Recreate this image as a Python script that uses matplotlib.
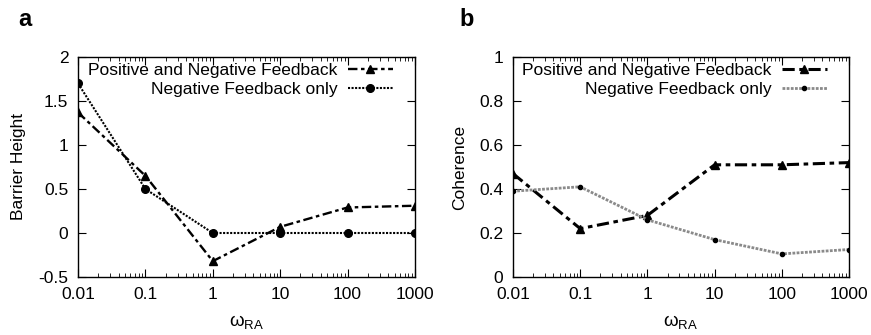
import numpy as np
import matplotlib
matplotlib.use("Agg")
import matplotlib.pyplot as plt
from matplotlib import rcParams
from matplotlib.ticker import LogLocator, FixedLocator, NullFormatter

rcParams["font.family"] = ["Liberation Sans", "DejaVu Sans"]
rcParams["axes.linewidth"] = 1.0
rcParams["xtick.direction"] = "in"
rcParams["ytick.direction"] = "in"
rcParams["xtick.top"] = True
rcParams["ytick.right"] = True

omega = [0.01, 0.1, 1, 10, 100, 1000]
xTickLabels = ["0.01", "0.1", "1", "10", "100", "1000"]

barrierPosNeg = [1.37, 0.65, -0.32, 0.07, 0.29, 0.31]
barrierNeg = [1.70, 0.50, 0.0, 0.0, 0.0, 0.0]
coherencePosNeg = [0.47, 0.22, 0.28, 0.51, 0.51, 0.52]
coherenceNeg = [0.39, 0.41, 0.26, 0.17, 0.105, 0.125]

labelPosNeg = "Positive and Negative Feedback"
labelNeg = "Negative Feedback only"

fontSize = 12.5

fig = plt.figure(figsize=(8.71, 3.35), dpi=100)
axA = fig.add_axes([78/871, 1-277/335, 337/871, 220/335])
axB = fig.add_axes([513/871, 1-277/335, 336/871, 220/335])

axA.plot(omega, barrierPosNeg, color="black", linestyle=(0, (4, 1.5, 1.5, 1.5)),
         linewidth=1.7, marker="^", markersize=6, label=labelPosNeg)
axA.plot(omega, barrierNeg, color="black", linestyle=(0, (1, 0.7)),
         linewidth=1.5, marker="o", markersize=5.5, label=labelNeg)

axB.plot(omega, coherencePosNeg, color="black", linestyle=(0, (4, 1.5, 1.5, 1.5)),
         linewidth=2.2, marker="^", markersize=6, label=labelPosNeg)
axB.plot(omega, coherenceNeg, color="#8a8a8a", linestyle=(0, (1, 0.5)),
         linewidth=2.0, marker="o", markersize=3, markerfacecolor="black",
         markeredgecolor="black", label=labelNeg)

for ax, ylab, ylim, yticks, ylabs in [
        (axA, "Barrier Height", (-0.5, 2), [-0.5, 0, 0.5, 1, 1.5, 2],
         ["-0.5", "0", "0.5", "1", "1.5", "2"]),
        (axB, "Coherence", (0, 1), [0, 0.2, 0.4, 0.6, 0.8, 1],
         ["0", "0.2", "0.4", "0.6", "0.8", "1"])]:
    ax.set_xscale("log")
    ax.set_xlim(0.01, 1000)
    ax.set_ylim(*ylim)
    ax.xaxis.set_major_locator(FixedLocator(omega))
    ax.set_xticklabels(xTickLabels)
    ax.xaxis.set_minor_locator(LogLocator(base=10, subs=np.arange(2, 10)))
    ax.xaxis.set_minor_formatter(NullFormatter())
    ax.set_yticks(yticks)
    ax.set_yticklabels(ylabs)
    ax.tick_params(which="major", length=6, width=0.8, labelsize=fontSize, pad=7)
    ax.tick_params(which="minor", length=3, width=0.6)
    ax.set_ylabel(ylab, fontsize=fontSize, labelpad=9)
    ax.set_xlabel(r"$\mathregular{\omega_{RA}}$", fontsize=fontSize + 1, labelpad=8)
    ax.legend(loc="upper right", bbox_to_anchor=(0.955, 1.005), frameon=False,
              markerfirst=False, fontsize=fontSize, handlelength=2.6,
              borderaxespad=0, labelspacing=0.2, handletextpad=0.6)

fig.text(18/871, 1-19/335, "a", fontsize=17, fontweight="bold", va="center")
fig.text(459/871, 1-19/335, "b", fontsize=17, fontweight="bold", va="center")

fig.savefig("out.png", dpi=100)
